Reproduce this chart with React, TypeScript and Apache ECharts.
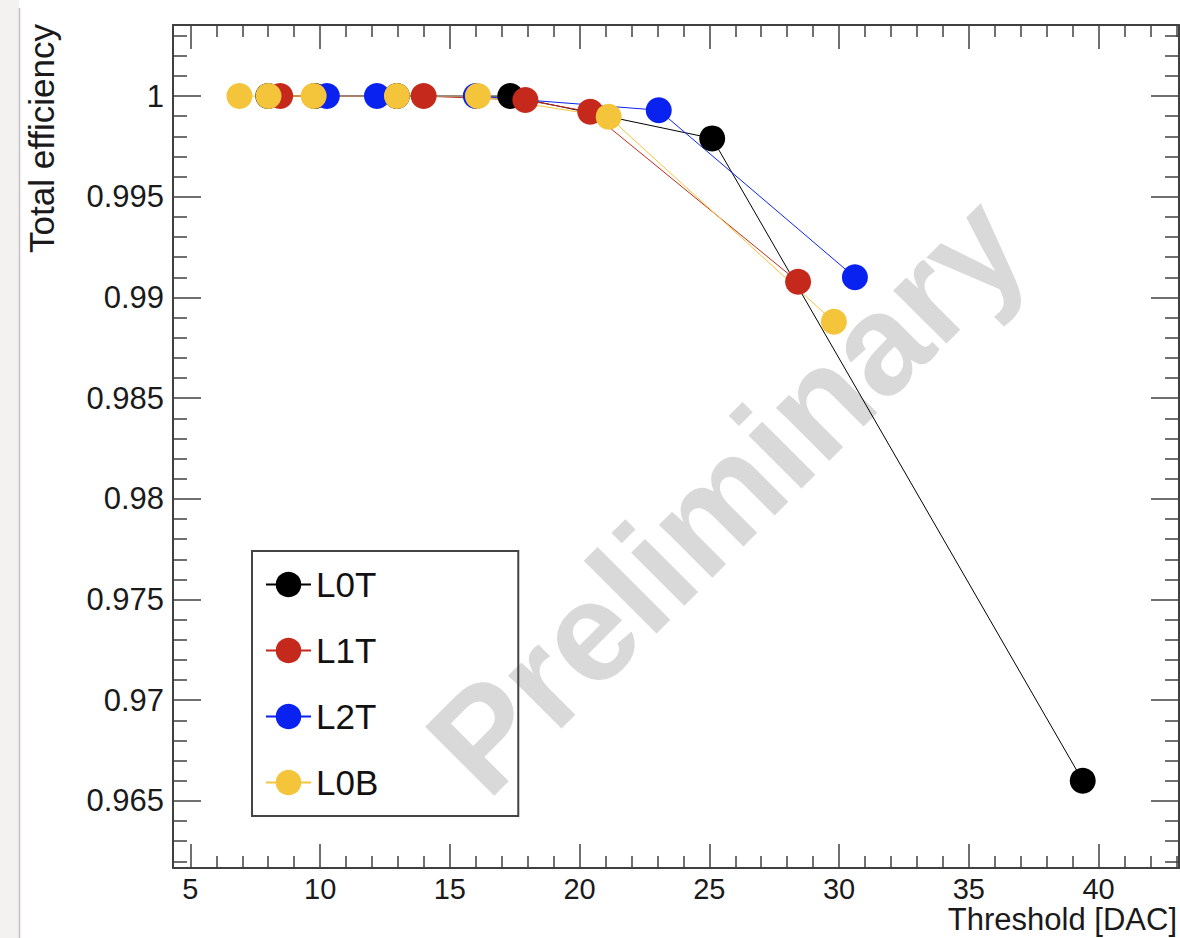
import React, { useEffect, useRef } from "react";
import * as echarts from "echarts";

const seriesNames = ["L0T", "L1T", "L2T", "L0B"];
const seriesColors = ["#000000", "#c4291c", "#0a22f0", "#f4c53a"];

const xL0T = [8.0, 9.8, 12.96, 17.33, 25.11, 39.39];
const yL0T = [1.0, 1.0, 1.0, 1.0, 0.9979, 0.966];

const xL1T = [8.46, 13.99, 17.91, 20.41, 28.42];
const yL1T = [1.0, 1.0, 0.9998, 0.99922, 0.99078];

const xL2T = [10.26, 12.19, 16.0, 23.05, 30.61];
const yL2T = [1.0, 1.0, 1.0, 0.9993, 0.991];

const xL0B = [6.89, 8.01, 9.75, 12.96, 16.08, 21.12, 29.8];
const yL0B = [1.0, 1.0, 1.0, 1.0, 1.0, 0.99897, 0.98879];

const xRange = [4.33, 43.1];
const yRange = [0.96167, 1.00353];
const xStep = 5;
const yStep = 0.005;

const xTitle = "Threshold [DAC]";
const yTitle = "Total efficiency";
const watermark = "Preliminary";

const FONT = "'Liberation Sans', Arial, Helvetica, sans-serif";

function pairs(xs: number[], ys: number[]) {
  return xs.map((x, i) => [x, ys[i]]);
}

export default function App() {
  const ref = useRef<HTMLDivElement>(null);

  useEffect(() => {
    if (!ref.current) return;
    const chart = echarts.init(ref.current, undefined, { renderer: "svg" });

    const frameLine = { show: true, onZero: false, lineStyle: { color: "#404040", width: 2 } };
    const tickStyle = { color: "#404040", width: 1.5 };

    const makeX = (pos: "bottom" | "top") => ({
      type: "value",
      position: pos,
      min: xRange[0],
      max: xRange[1],
      splitNumber: 8,
      minInterval: xStep,
      maxInterval: xStep,
      axisLine: frameLine,
      axisTick: { show: true, inside: true, length: 24, lineStyle: tickStyle },
      minorTick: { show: true, splitNumber: 5, length: 12, lineStyle: tickStyle },
      splitLine: { show: false },
      axisLabel: {
        show: pos === "bottom",
        inside: false,
        margin: 6,
        fontSize: 29,
        color: "#1a1a1a",
        fontFamily: FONT,
        showMinLabel: false,
        showMaxLabel: false,
        formatter: (v: number) => String(Number(v.toFixed(3))),
      },
    });

    const makeY = (pos: "left" | "right") => ({
      type: "value",
      position: pos,
      min: yRange[0],
      max: yRange[1],
      splitNumber: 8,
      minInterval: yStep,
      maxInterval: yStep,
      axisLine: frameLine,
      axisTick: { show: true, inside: true, length: 28, lineStyle: tickStyle },
      minorTick: { show: true, splitNumber: 5, length: 14, lineStyle: tickStyle },
      splitLine: { show: false },
      axisLabel: {
        show: pos === "left",
        inside: false,
        margin: 9,
        fontSize: 31,
        color: "#1a1a1a",
        fontFamily: FONT,
        showMinLabel: false,
        showMaxLabel: false,
        formatter: (v: number) => String(Number(v.toFixed(4))),
      },
    });

    const allData = [
      pairs(xL0T, yL0T),
      pairs(xL1T, yL1T),
      pairs(xL2T, yL2T),
      pairs(xL0B, yL0B),
    ];

    const option = {
      animation: false,
      backgroundColor: "#ffffff",
      grid: { left: 173, right: 1, top: 25, bottom: 70, containLabel: false },
      xAxis: [makeX("bottom"), makeX("top")],
      yAxis: [makeY("left"), makeY("right")],
      legend: {
        orient: "vertical",
        left: 252,
        top: 551,
        itemWidth: 45,
        itemHeight: 32,
        itemGap: 31,
        padding: [16, 140, 16, 13],
        borderColor: "#444444",
        borderWidth: 2,
        backgroundColor: "transparent",
        textStyle: { fontSize: 35, color: "#111111", fontFamily: FONT, lineHeight: 32 },
        data: seriesNames,
      },
      graphic: [
        {
          type: "rect",
          z: -10,
          shape: { x: 0, y: 0, width: 19, height: 938 },
          style: { fill: "#f3f2f0" },
        },
        {
          type: "line",
          z: -9,
          shape: { x1: 19.5, y1: 8, x2: 19.5, y2: 938 },
          style: { stroke: "#c2c2c2", lineWidth: 1.5 },
        },
        {
          type: "text",
          z: 0,
          x: 726,
          y: 494,
          rotation: Math.PI / 4,
          style: {
            text: watermark,
            fill: "#d9d9d9",
            font: `bold 142px ${FONT}`,
            textAlign: "center",
            textVerticalAlign: "middle",
          },
        },
        {
          type: "text",
          x: 1177,
          y: 935,
          style: {
            text: xTitle,
            fill: "#1a1a1a",
            font: `31px ${FONT}`,
            textAlign: "right",
            textVerticalAlign: "bottom",
          },
        },
        {
          type: "text",
          x: 41,
          y: 24,
          rotation: Math.PI / 2,
          style: {
            text: yTitle,
            fill: "#1a1a1a",
            font: `35px ${FONT}`,
            textAlign: "right",
            textVerticalAlign: "middle",
          },
        },
      ],
      series: seriesNames.map((name, i) => ({
        name,
        type: "line",
        xAxisIndex: 0,
        yAxisIndex: 0,
        data: allData[i],
        symbol: "circle",
        symbolSize: 26,
        showAllSymbol: true,
        itemStyle: { color: seriesColors[i], borderWidth: 0 },
        lineStyle: { color: seriesColors[i], width: 1 },
        emphasis: { disabled: true },
      })),
    };

    chart.setOption(option as any);
    return () => chart.dispose();
  }, []);

  return (
    <div
      ref={ref}
      style={{ position: "fixed", left: 0, top: 0, width: 1180, height: 938 }}
    />
  );
}
